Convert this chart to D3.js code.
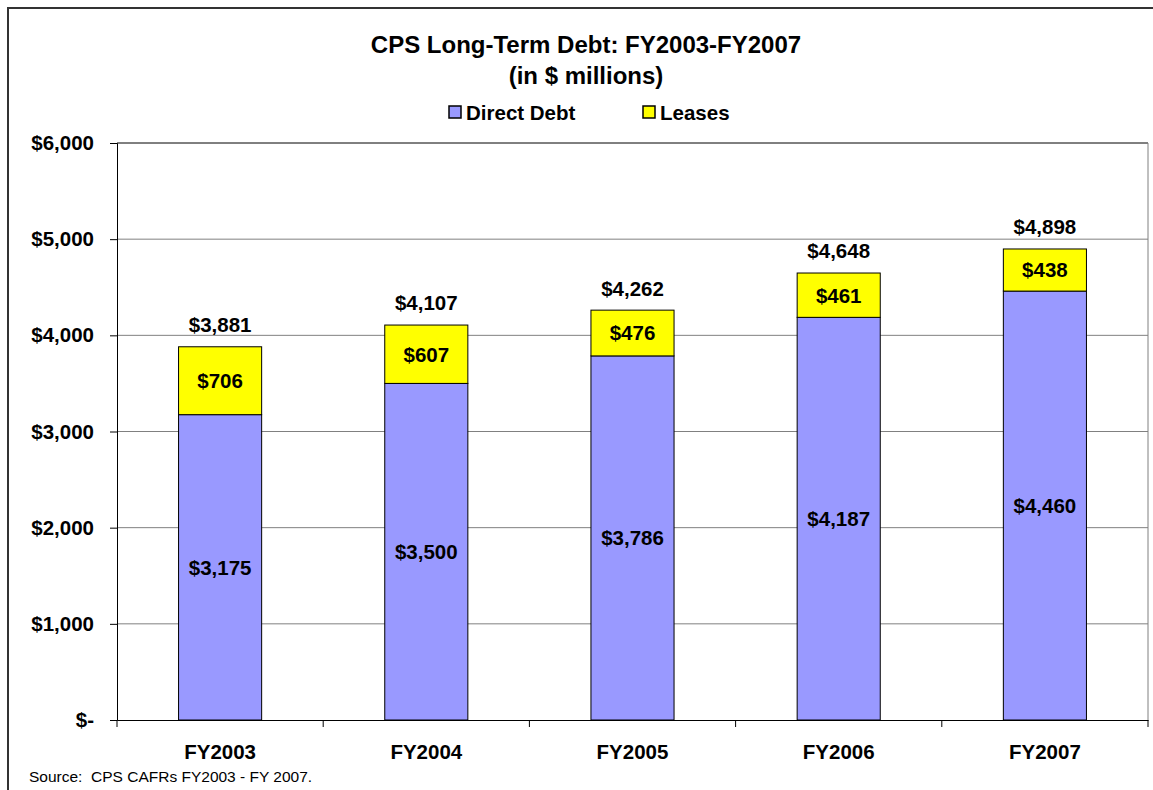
<!DOCTYPE html>
<html><head><meta charset="utf-8">
<script src="https://cdn.jsdelivr.net/npm/d3@7"></script>
<style>body{margin:0;background:#fff}svg{display:block}text{font-family:"Liberation Sans",Arial,sans-serif}</style>
</head><body>
<svg id="c" width="1153" height="790"></svg>
<script>
const categories = ["FY2003","FY2004","FY2005","FY2006","FY2007"];
const directDebt = [3175,3500,3786,4187,4460];
const leases = [706,607,476,461,438];
const totals = [3881,4107,4262,4648,4898];
const yTicks = [0,1000,2000,3000,4000,5000,6000];
const yTickLabels = ["$-","$1,000","$2,000","$3,000","$4,000","$5,000","$6,000"];
const seriesNames = ["Direct Debt","Leases"];
const colors = ["#9999ff","#ffff00"];

const svg = d3.select("#c");
const L=117,R=1148,T=143,B=720;
const FF = "Liberation Sans, Arial, sans-serif";
// outer border
svg.append("path").attr("d","M8,800 V8 H1160").attr("fill","none").attr("stroke","#333").attr("stroke-width",2);

const x = d3.scaleBand().domain(categories).range([L,R]).paddingInner(0.597).paddingOuter(0.2985);
const y = d3.scaleLinear().domain([0,6000]).range([B,T]);

// gridlines
svg.append("g").selectAll("line").data(yTicks.filter(d=>d>0&&d<6000)).join("line")
 .attr("x1",L).attr("x2",R).attr("y1",d=>y(d)).attr("y2",d=>y(d)).attr("stroke","#808080").attr("stroke-width",1);
svg.append("line").attr("x1",L).attr("x2",R).attr("y1",T).attr("y2",T).attr("stroke","#000");
svg.append("line").attr("x1",R).attr("x2",R).attr("y1",T).attr("y2",B).attr("stroke","#808080");

// bars
const fmt = d3.format(",");
categories.forEach((c,i)=>{
  const bx = x(c), bw = x.bandwidth();
  svg.append("rect").attr("x",bx).attr("y",y(directDebt[i])).attr("width",bw).attr("height",y(0)-y(directDebt[i]))
    .attr("fill",colors[0]).attr("stroke","#000").attr("stroke-width",1);
  svg.append("rect").attr("x",bx).attr("y",y(directDebt[i]+leases[i])).attr("width",bw).attr("height",y(directDebt[i])-y(directDebt[i]+leases[i]))
    .attr("fill",colors[1]).attr("stroke","#000").attr("stroke-width",1);
  const cx = bx+bw/2;
  svg.append("text").attr("x",cx).attr("y",(y(0)+y(directDebt[i]))/2).attr("dy","0.36em").attr("text-anchor","middle")
    .attr("font-size",20.5).attr("font-weight","bold").text("$"+fmt(directDebt[i]));
  svg.append("text").attr("x",cx).attr("y",(y(directDebt[i])+y(directDebt[i]+leases[i]))/2).attr("dy","0.36em").attr("text-anchor","middle")
    .attr("font-size",20.5).attr("font-weight","bold").text("$"+fmt(leases[i]));
  svg.append("text").attr("x",cx).attr("y",y(totals[i])-22).attr("dy","0.36em").attr("text-anchor","middle")
    .attr("font-size",20.5).attr("font-weight","bold").text("$"+fmt(totals[i]));
});

// y axis
const ya = svg.append("g").attr("transform",`translate(${L},0)`)
  .call(d3.axisLeft(y).tickValues(yTicks).tickSize(7).tickFormat((d,i)=>yTickLabels[i]));
ya.select(".domain").attr("stroke","#000");
ya.selectAll(".tick line").attr("stroke","#000");
ya.selectAll("text").attr("font-size",20.5).attr("font-weight","bold").attr("fill","#000").attr("x",-23).attr("font-family",FF);

// x axis
const xa = svg.append("g").attr("transform",`translate(0,${B})`).call(d3.axisBottom(x).tickSize(0).tickPadding(24));
xa.select(".domain").attr("stroke","#000");
xa.selectAll("text").attr("font-size",20.5).attr("font-weight","bold").attr("fill","#000").attr("font-family",FF);
const step = (R-L)/categories.length;
svg.append("g").selectAll("line").data(d3.range(categories.length+1)).join("line")
  .attr("x1",d=>L+d*step).attr("x2",d=>L+d*step).attr("y1",B).attr("y2",B+7).attr("stroke","#000");

// title
svg.append("text").attr("x",586).attr("y",53).attr("text-anchor","middle").attr("font-size",24).attr("font-weight","bold").text("CPS Long-Term Debt: FY2003-FY2007");
svg.append("text").attr("x",586).attr("y",84).attr("text-anchor","middle").attr("font-size",24).attr("font-weight","bold").text("(in $ millions)");

// legend
const legX = [449,643];
seriesNames.forEach((n,i)=>{
  svg.append("rect").attr("x",legX[i]).attr("y",106).attr("width",12).attr("height",12).attr("fill",colors[i]).attr("stroke","#000").attr("stroke-width",1.5);
  svg.append("text").attr("x",legX[i]+17).attr("y",120).attr("font-size",20.5).attr("font-weight","bold").text(n);
});

// source
svg.append("text").attr("x",29).attr("y",782).attr("font-size",15.5).style("white-space","pre").text("Source:  CPS CAFRs FY2003 - FY 2007.");
</script>
</body></html>
